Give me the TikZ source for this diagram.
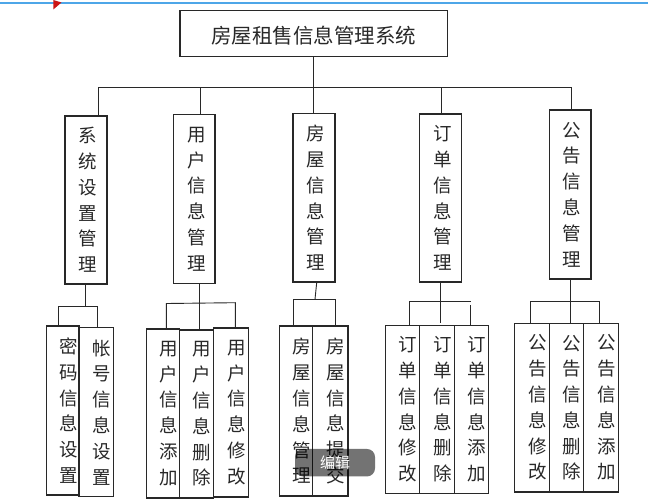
\documentclass[tikz,border=0pt]{standalone}
\usepackage{fontspec}
\setmainfont{Noto Sans CJK SC}
\usetikzlibrary{fit}
\definecolor{topblue}{RGB}{77,166,232}
\definecolor{flagred}{RGB}{204,20,20}
\definecolor{ink}{RGB}{40,40,40}
\begin{document}
\begin{tikzpicture}[x=1pt,y=-1pt,
  box/.style={draw=ink, line width=1.1pt, inner sep=0pt},
  conn/.style={draw=ink, line width=0.9pt},
  vtxt/.style={text=ink, align=center, inner sep=0pt, font=\fontsize{18.5}{25.8}\selectfont},
  ttxt/.style={text=ink, inner sep=0pt, font=\fontsize{20.5}{24}\selectfont}]
\useasboundingbox (0,0) rectangle (648,503);
\fill[white] (0,0) rectangle (648,503);
% screenshot marks
\draw[topblue, line width=2pt] (0,2.7) -- (648,2.7);
\fill[flagred] (53.3,0) -- (61.5,2.5) -- (53.3,9.5) -- cycle;
% top box
\node[box, fit={(180,10.7) (447.3,56.7)}] (T) {};
\node[ttxt] at (313.7,35.5) {房屋租售信息管理系统};
% level 2 boxes
\node[box, fit={(65,116) (107,284)}] (b1) {};
\node[box, fit={(173.7,114.7) (215,283.7)}] (b2) {};
\node[box, fit={(293,113.7) (335,282)}] (b3) {};
\node[box, fit={(419.7,114) (461.3,282)}] (b4) {};
\node[box, fit={(549.3,110) (591,279)}] (b5) {};
\node[vtxt] at ([xshift=2]b1.center) {系\\统\\设\\置\\管\\理};
\node[vtxt] at ([xshift=2]b2.center) {用\\户\\信\\息\\管\\理};
\node[vtxt] at ([xshift=2]b3.center) {房\\屋\\信\\息\\管\\理};
\node[vtxt] at ([xshift=2]b4.center) {订\\单\\信\\息\\管\\理};
\node[vtxt] at ([xshift=2]b5.center) {公\\告\\信\\息\\管\\理};
% level 3 boxes
\node[box, fit={(46.7,326) (79,495)}] (c11) {};
\node[box, fit={(79,327.7) (113.3,496.7)}] (c12) {};
\node[box, fit={(146.3,329) (179.7,498)}] (c21) {};
\node[box, fit={(179.7,330) (213.3,498)}] (c22) {};
\node[box, fit={(213.3,328) (248.7,497)}] (c23) {};
\node[box, fit={(279.3,326) (312.7,496)}] (c31) {};
\node[box, fit={(312.7,326) (348,496)}] (c32) {};
\node[box, fit={(385.3,325.3) (419.7,493.3)}] (c41) {};
\node[box, fit={(419.7,325.3) (454.3,493.3)}] (c42) {};
\node[box, fit={(454.3,325.3) (488.7,493.3)}] (c43) {};
\node[box, fit={(514.7,323.3) (549.3,492)}] (c51) {};
\node[box, fit={(549.3,323.3) (583.3,492)}] (c52) {};
\node[box, fit={(583.3,323.3) (618.7,492)}] (c53) {};
\node[vtxt] at ([xshift=5.5]c11.center) {密\\码\\信\\息\\设\\置};
\node[vtxt] at ([xshift=5.5]c12.center) {帐\\号\\信\\息\\设\\置};
\node[vtxt] at ([xshift=5.5]c21.center) {用\\户\\信\\息\\添\\加};
\node[vtxt] at ([xshift=5.5]c22.center) {用\\户\\信\\息\\删\\除};
\node[vtxt] at ([xshift=5.5]c23.center) {用\\户\\信\\息\\修\\改};
\node[vtxt] at ([xshift=5.5]c31.center) {房\\屋\\信\\息\\管\\理};
\node[vtxt] at ([xshift=5.5]c32.center) {房\\屋\\信\\息\\提\\交};
\node[vtxt] at ([xshift=5.5]c41.center) {订\\单\\信\\息\\修\\改};
\node[vtxt] at ([xshift=5.5]c42.center) {订\\单\\信\\息\\删\\除};
\node[vtxt] at ([xshift=5.5]c43.center) {订\\单\\信\\息\\添\\加};
\node[vtxt] at ([xshift=5.5]c51.center) {公\\告\\信\\息\\修\\改};
\node[vtxt] at ([xshift=5.5]c52.center) {公\\告\\信\\息\\删\\除};
\node[vtxt] at ([xshift=5.5]c53.center) {公\\告\\信\\息\\添\\加};
% top bus
\coordinate (busL) at (98.5,87.3);
\coordinate (busR) at (571,87.3);
\coordinate (d2) at (200,87.3);
\coordinate (d3) at (313,87.3);
\coordinate (d4) at (441,87.3);
\draw[conn] (T.south -| d3) -- (d3);
\draw[conn] (busL) -- (busR);
\draw[conn] (busL) -- (busL |- b1.north);
\draw[conn] (d2) -- (d2 |- b2.north);
\draw[conn] (d3) -- (d3 |- b3.north);
\draw[conn] (d4) -- (d4 |- b4.north);
\draw[conn] (busR) -- (busR |- b5.north);
% group 1
\coordinate (g1) at (85.3,306.7);
\coordinate (g1L) at (58.3,306.7);
\coordinate (g1R) at (97.3,306.7);
\draw[conn] (b1.south -| g1) -- (g1);
\draw[conn] (g1L |- c11.north) -- (g1L) -- (g1R) -- (g1R |- c12.north);
% group 2
\coordinate (g2) at (199.3,303);
\coordinate (g2L) at (166.3,303.5);
\coordinate (g2R) at (235.3,302.7);
\draw[conn] (b2.south -| g2) -- (g2 |- c22.north);
\draw[conn] (g2L |- c21.north) -- (g2L) -- (g2R) -- (g2R |- c23.north);
% group 3
\coordinate (g3) at (315,299.3);
\coordinate (g3L) at (293.3,299.3);
\coordinate (g3R) at (335,299.3);
\draw[conn] ([xshift=2.7]b3.south) -- (g3);
\draw[conn] (g3L |- c31.north) -- (g3L) -- (g3R) -- (g3R |- c32.north);
% group 4
\coordinate (g4) at (440.7,301.7);
\coordinate (g4m) at (440.7,323);
\coordinate (g4L) at (409.3,301.7);
\coordinate (g4R) at (470.7,301.7);
\coordinate (g4Rs) at (470.7,305);
\draw[conn] (b4.south -| g4) -- (g4m);
\draw[conn] (g4L |- c41.north) -- (g4L) -- (g4R);
\draw[conn] (g4Rs) -- (g4Rs |- c43.north);
% group 5
\coordinate (g5) at (570.7,301.7);
\coordinate (g5m) at (570.7,323);
\coordinate (g5L) at (530.3,301.7);
\coordinate (g5R) at (599.3,301.7);
\draw[conn] (b5.south -| g5) -- (g5m);
\draw[conn] (g5L |- c51.north) -- (g5L) -- (g5R) -- (g5R |- c53.north);
% overlay button
\node[fill=black, fill opacity=0.55, rounded corners=8pt, inner sep=0pt, minimum width=80pt, minimum height=27.5pt] (btn) at (335,462.7) {};
\node[text=white, inner sep=0pt, font=\fontsize{15}{18}\selectfont] at (btn.center) {编辑};
\end{tikzpicture}
\end{document}
